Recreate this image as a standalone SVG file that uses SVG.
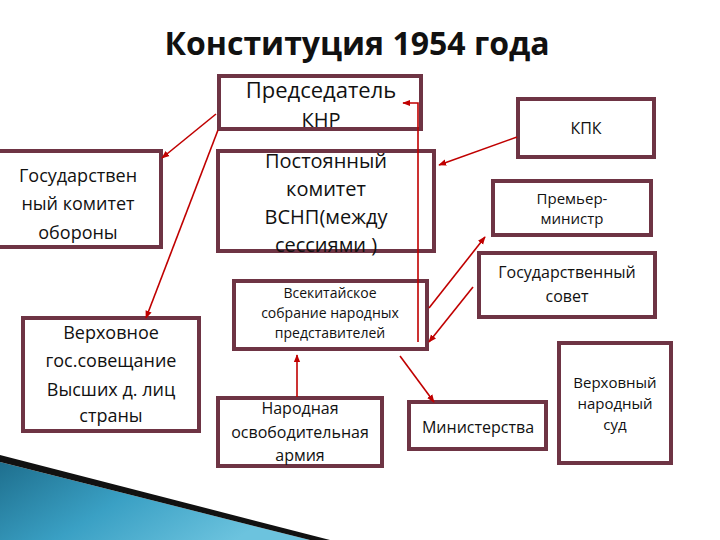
<svg xmlns="http://www.w3.org/2000/svg" width="720" height="540" viewBox="0 0 720 540">
<defs>
<style>
.b{fill:#fff;stroke:#6e3444;stroke-width:4}
.t{font-family:"Open Sans","DejaVu Sans",sans-serif;fill:#111;text-anchor:middle}
.c{stroke:#c00000;stroke-width:1.6;fill:none;marker-end:url(#a)}
</style>
<marker id="a" viewBox="0 0 10 10" refX="9" refY="5" markerWidth="5" markerHeight="5" orient="auto"><path d="M0,1 L10,5 L0,9 z" fill="#c00000"/></marker>
<linearGradient id="g" x1="0" y1="0" x2="1" y2="0.4"><stop offset="0" stop-color="#1e6f8e"/><stop offset="0.5" stop-color="#3aa0c4"/><stop offset="1" stop-color="#6cc3de"/></linearGradient>
</defs>
<rect width="720" height="540" fill="#fff"/>
<path d="M0,462 L310,540 L0,540 Z" fill="url(#g)"/>
<path d="M0,455 L330,540 L310,540 L0,462 Z" fill="#111"/>
<text x="357" y="55" class="t" font-size="32" font-weight="bold">Конституция 1954 года</text>
<g id="chair"><rect class="b" x="219" y="76" width="202" height="53"/><text class="t" font-size="22" x="321" y="98">Председатель</text><text class="t" font-size="20" x="321" y="127">КНР</text></g>
<g id="standing"><rect class="b" x="218" y="151" width="216" height="100"/><text class="t" font-size="20" x="326" y="168">Постоянный</text><text class="t" font-size="20" x="326" y="196">комитет</text><text class="t" font-size="20" x="326" y="224">ВСНП(между</text><text class="t" font-size="20" x="326" y="252">сессиями )</text></g>
<g id="kpk"><rect class="b" x="518" y="99" width="136" height="58"/><text class="t" font-size="16" x="586" y="134">КПК</text></g>
<g id="premier"><rect class="b" x="493" y="181" width="158" height="54"/><text class="t" font-size="15" x="572" y="204">Премьер-</text><text class="t" font-size="15" x="572" y="224">министр</text></g>
<g id="council"><rect class="b" x="479" y="253" width="176" height="64"/><text class="t" font-size="16" x="567" y="278">Государственный</text><text class="t" font-size="16" x="567" y="302">совет</text></g>
<g id="court"><rect class="b" x="559" y="343" width="112" height="120"/><text class="t" font-size="15" x="615" y="388">Верховный</text><text class="t" font-size="15" x="615" y="409">народный</text><text class="t" font-size="15" x="615" y="430">суд</text></g>
<g id="ministries"><rect class="b" x="409" y="402" width="137" height="47"/><text class="t" font-size="16" x="478" y="433">Министерства</text></g>
<g id="npc"><rect class="b" x="234" y="281" width="193" height="68"/><text class="t" font-size="14" x="330" y="298">Всекитайское</text><text class="t" font-size="14" x="330" y="318">собрание народных</text><text class="t" font-size="14" x="330" y="338">представителей</text></g>
<g id="pla"><rect class="b" x="218" y="398" width="164" height="68"/><text class="t" font-size="16" x="300" y="414">Народная</text><text class="t" font-size="16" x="300" y="438">освободительная</text><text class="t" font-size="16" x="300" y="461">армия</text></g>
<g id="defense"><rect class="b" x="-4" y="151" width="165" height="96"/><text class="t" font-size="18" x="78" y="182">Государствен</text><text class="t" font-size="18" x="78" y="210">ный комитет</text><text class="t" font-size="18" x="78" y="239">обороны</text></g>
<g id="supreme"><rect class="b" x="23" y="318" width="176" height="113"/><text class="t" font-size="18" x="111" y="339">Верховное</text><text class="t" font-size="18" x="111" y="367">гос.совещание</text><text class="t" font-size="18" x="111" y="396">Высших д. лиц</text><text class="t" font-size="18" x="111" y="422">страны</text></g>
<g id="connectors">
<path class="c" d="M216,114 L162,158"/>
<path class="c" d="M218,130 L146,318"/>
<path class="c" d="M418,342 L418,103 L403,103"/>
<path class="c" d="M517,137 L439,165"/>
<path class="c" d="M429,308 L485,237"/>
<path class="c" d="M473,287 L429,342"/>
<path class="c" d="M400,356 L434,402"/>
<path class="c" d="M297,397 L297,355"/>
</g>
</svg>
